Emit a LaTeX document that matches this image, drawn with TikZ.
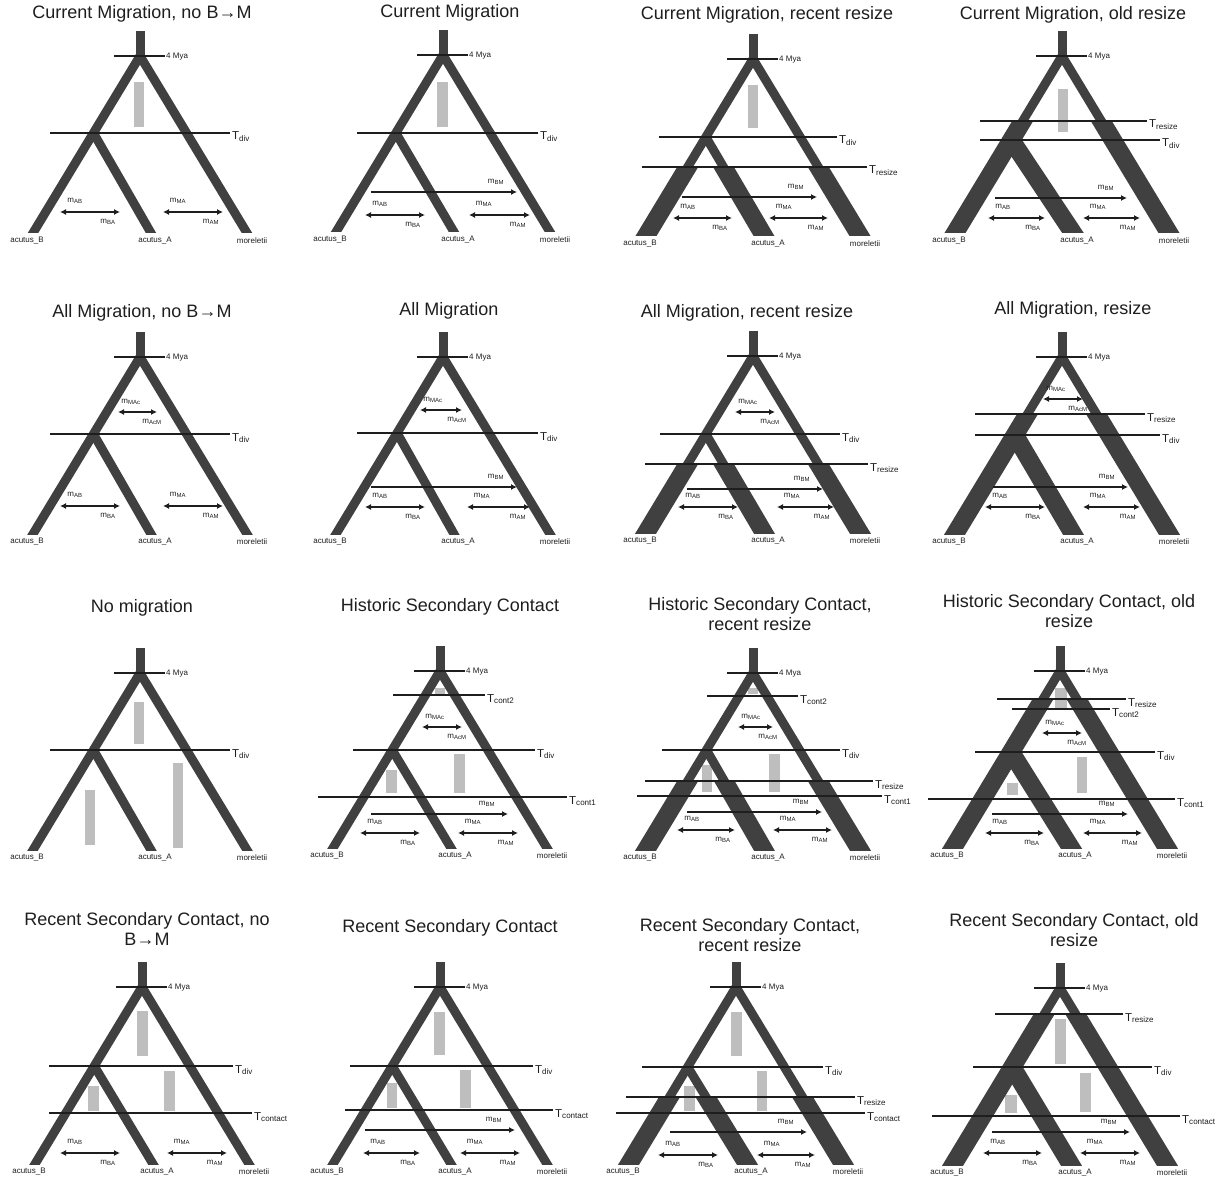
\documentclass[tikz,border=0pt]{standalone}
\usepackage{fontspec}
\setmainfont{Liberation Sans}
\definecolor{branchGrey}{HTML}{404040}
\definecolor{barGrey}{HTML}{BEBEBE}
\definecolor{lineInk}{HTML}{1E1E1E}
\usetikzlibrary{arrows.meta, calc}

% depth of the tips below the root (px)
\newcommand{\treeh}{177}

% tree: stem, 4 Mya mark, outer branches and the acutus_A branch
\newcommand{\tree}[1]{%
  \def\divdepth{#1}
  \coordinate (root) at (0,0);
  \coordinate (stemtop) at (0,-25);
  \coordinate (tipB) at (-107,\treeh);
  \coordinate (tipM) at (107,\treeh);
  \coordinate (tipA) at (11,\treeh);
  \pgfmathsetmacro{\divfrac}{#1/\treeh}
  \coordinate (div) at ($(root)!\divfrac!(tipB)$);
  \begin{scope}
    \clip (-170,-40) rectangle (170,\treeh);
    \draw[branch] (stemtop) -- (root);
    \draw[branch, line join=miter] ($(root)!1.1!(tipB)$) -- (root) -- ($(root)!1.1!(tipM)$);
    \draw[branch] (div) -- ($(div)!1.1!(tipA)$);
  \end{scope}
  \coordinate (myl) at (-26,0);
  \coordinate (myr) at (25,0);
  \draw[tline] (myl) -- (myr);
  \node[small, anchor=west] (mya) at ($(myr)+(1,1)$) {4 Mya};
  \node[small] (labB) at (-113,\treeh+8) {acutus\_B};
  \node[small] (labA) at (15,\treeh+8) {acutus\_A};
  \node[small] (labM) at (112,\treeh+8) {moreletii};
}

% wide legs below T_resize
\newcommand{\resize}[1]{%
  \pgfmathsetmacro{\rfrac}{#1/\treeh-0.05}
  \pgfmathsetmacro{\adepth}{max(#1,\divdepth)}
  \pgfmathsetmacro{\afrac}{(\adepth-\divdepth)/(\treeh-\divdepth)-0.05}
  \begin{scope}
    \clip (-170,#1) rectangle (170,\treeh);
    \draw[leg] ($(root)!\rfrac!(tipB)$) -- ($(root)!1.1!(tipB)$);
    \draw[leg] ($(root)!\rfrac!(tipM)$) -- ($(root)!1.1!(tipM)$);
  \end{scope}
  \begin{scope}
    \clip (-170,\adepth) rectangle (170,\treeh);
    \draw[leg] ($(div)!\afrac!(tipA)$) -- ($(div)!1.1!(tipA)$);
  \end{scope}
}

% time line: depth, x from, x to, subscript
\newcommand{\tline}[4]{%
  \coordinate (tl) at (#2,#1);
  \coordinate (tr) at (#3,#1);
  \draw[tline] (tl) -- (tr);
  \node[tlabel, anchor=base west] (t-#4) at ($(tr)+(2,7)$) {T\textsubscript{#4}};
}

% two-way migration: depth, x from, x to, upper, lower
\newcommand{\mig}[5]{%
  \coordinate (ml) at (#2,#1);
  \coordinate (mr) at (#3,#1);
  \draw[mig, <->] (ml) -- (mr);
  \node[small] (mu) at ($(ml)+(15,-11)$) {m\textsubscript{#4}};
  \node[small] (md) at ($(mr)+(-12,10)$) {m\textsubscript{#5}};
}

% ancestral two-way migration
\newcommand{\ancmig}[3]{%
  \coordinate (al) at (#2,#1);
  \coordinate (ar) at (#3,#1);
  \draw[mig, <->] (al) -- (ar);
  \node[small] (au) at ($(al)+(13,-10)$) {m\textsubscript{MAc}};
  \node[small] (ad) at ($(ar)+(-5,10)$) {m\textsubscript{AcM}};
}

% B -> M migration
\newcommand{\oneway}[3]{%
  \coordinate (bl) at (#2,#1);
  \coordinate (br) at (#3,#1);
  \draw[mig, ->] (bl) -- (br);
  \node[small] (bu) at ($(br)+(-21,-10)$) {m\textsubscript{BM}};
}

\newcommand{\popbar}[4]{\fill[barGrey] (#1,#2) rectangle (#3,#4);}

\begin{document}
\begin{tikzpicture}[
    x=1pt, y=-1pt,
    >={Latex[length=6pt,width=6pt]},
    branch/.style={draw=branchGrey, line width=9pt},
    leg/.style={draw=branchGrey, line width=18pt},
    tline/.style={draw=lineInk, line width=1.2pt},
    mig/.style={draw=lineInk, line width=1.4pt},
    title/.style={font=\fontsize{18}{20}\selectfont, align=center, text=lineInk, inner sep=0pt},
    tlabel/.style={font=\fontsize{11.5}{12}\selectfont, text=lineInk, inner sep=0pt},
    small/.style={font=\fontsize{8}{8}\selectfont, text=lineInk, inner sep=0pt},
  ]
  \useasboundingbox (0,0) rectangle (1229,1182);

  % Current Migration, no B->M
  \begin{scope}[shift={(140,56)}]
    \node[title] (title1) at (2,-42) {Current Migration, no B→M};
    \popbar{-6}{26}{4}{71}
    \tree{77}
    \tline{77}{-90}{90}{div}
    \mig{156}{-80}{-20}{AB}{BA}
    \mig{156}{23}{83}{MA}{AM}
  \end{scope}

  % Current Migration
  \begin{scope}[shift={(443,55)}]
    \node[title] (title2) at (7,-42) {Current Migration};
    \popbar{-6}{27}{5}{72}
    \tree{78}
    \tline{78}{-86}{95}{div}
    \oneway{137}{-72}{74}
    \mig{160}{-78}{-18}{AB}{BA}
    \mig{160}{26}{87}{MA}{AM}
  \end{scope}

  % Current Migration, recent resize
  \begin{scope}[shift={(753,59)}]
    \node[title] (title3) at (14,-44) {Current Migration, recent resize};
    \popbar{-5}{26}{5}{69}
    \tree{78}
    \resize{108}
    \tline{78}{-94}{84}{div}
    \tline{108}{-111}{114}{resize}
    \oneway{138}{-71}{64}
    \mig{159}{-80}{-21}{AB}{BA}
    \mig{159}{16}{75}{MA}{AM}
  \end{scope}

  % Current Migration, old resize
  \begin{scope}[shift={(1062,56)}]
    \node[title] (title4) at (11,-41) {Current Migration, old resize};
    \popbar{-4}{33}{6}{76}
    \tree{84}
    \resize{65}
    \tline{65}{-82}{85}{resize}
    \tline{84}{-82}{98}{div}
    \oneway{142}{-67}{65}
    \mig{162}{-74}{-17}{AB}{BA}
    \mig{162}{21}{78}{MA}{AM}
  \end{scope}

  % All Migration, no B->M
  \begin{scope}[shift={(140,357)}]
    \node[title] (title5) at (2,-44) {All Migration, no B→M};
    \tree{77}
    \ancmig{55}{-22}{17}
    \tline{77}{-90}{90}{div}
    \mig{149}{-80}{-20}{AB}{BA}
    \mig{149}{23}{83}{MA}{AM}
  \end{scope}

  % All Migration
  \begin{scope}[shift={(443,357)}]
    \node[title] (title6) at (6,-46) {All Migration};
    \tree{76}
    \ancmig{53}{-23}{19}
    \tline{76}{-86}{95}{div}
    \oneway{130}{-72}{74}
    \mig{150}{-78}{-18}{AB}{BA}
    \mig{150}{24}{87}{MA}{AM}
  \end{scope}

  % All Migration, recent resize
  \begin{scope}[shift={(753,356)}]
    \node[title] (title7) at (-6,-43) {All Migration, recent resize};
    \tree{78}
    \resize{108}
    \ancmig{56}{-18}{22}
    \tline{78}{-93}{87}{div}
    \tline{108}{-108}{115}{resize}
    \oneway{133}{-66}{70}
    \mig{151}{-75}{-15}{AB}{BA}
    \mig{151}{24}{81}{MA}{AM}
  \end{scope}

  % All Migration, resize
  \begin{scope}[shift={(1062,357)}]
    \node[title] (title8) at (11,-47) {All Migration, resize};
    \tree{78}
    \resize{57}
    \ancmig{42}{-19}{21}
    \tline{57}{-87}{83}{resize}
    \tline{78}{-87}{98}{div}
    \oneway{130}{-69}{66}
    \mig{150}{-77}{-17}{AB}{BA}
    \mig{150}{21}{78}{MA}{AM}
  \end{scope}

  % No migration
  \begin{scope}[shift={(140,673)}]
    \node[title] (title9) at (2,-65) {No migration};
    \popbar{-6}{29}{4}{71}
    \popbar{-55}{117}{-45}{172}
    \popbar{33}{90}{43}{175}
    \tree{77}
    \tline{77}{-90}{90}{div}
  \end{scope}

  % Historic Secondary Contact
  \begin{scope}[shift={(440,671)}]
    \node[title] (title10) at (10,-64) {Historic Secondary Contact};
    \popbar{-5}{17}{5}{23}
    \popbar{-54}{99}{-43}{122}
    \popbar{14}{83}{25}{122}
    \tree{79}
    \tline{24}{-47}{45}{cont2}
    \ancmig{56}{-18}{22}
    \tline{79}{-87}{95}{div}
    \tline{126}{-122}{127}{cont1}
    \oneway{143}{-69}{68}
    \mig{162}{-80}{-20}{AB}{BA}
    \mig{162}{18}{78}{MA}{AM}
  \end{scope}

  % Historic Secondary Contact, recent resize
  \begin{scope}[shift={(753,673)}]
    \node[title] (title11) at (7,-59) {Historic Secondary Contact,\\recent resize};
    \popbar{-5}{15}{5}{21}
    \popbar{-51}{92}{-41}{119}
    \popbar{16}{81}{27}{119}
    \tree{77}
    \resize{108}
    \tline{23}{-46}{45}{cont2}
    \ancmig{54}{-15}{20}
    \tline{77}{-91}{87}{div}
    \tline{108}{-108}{120}{resize}
    \tline{123}{-116}{129}{cont1}
    \oneway{139}{-66}{69}
    \mig{157}{-76}{-18}{AB}{BA}
    \mig{157}{20}{79}{MA}{AM}
  \end{scope}

  % Historic Secondary Contact, old resize
  \begin{scope}[shift={(1060,671)}]
    \node[title] (title12) at (9,-60) {Historic Secondary Contact, old\\resize};
    \popbar{-5}{17}{7}{37}
    \popbar{-53}{112}{-42}{124}
    \popbar{17}{86}{27}{122}
    \tree{81}
    \resize{28}
    \tline{28}{-63}{66}{resize}
    \tline{38}{-48}{50}{cont2}
    \ancmig{62}{-18}{22}
    \tline{81}{-85}{95}{div}
    \tline{128}{-132}{115}{cont1}
    \oneway{143}{-68}{68}
    \mig{162}{-75}{-16}{AB}{BA}
    \mig{162}{23}{82}{MA}{AM}
  \end{scope}

  % Recent Secondary Contact, no B->M
  \begin{scope}[shift={(142,987)}]
    \node[title] (title13) at (5,-58) {Recent Secondary Contact, no\\B→M};
    \popbar{-5}{24}{6}{69}
    \popbar{-54}{99}{-43}{124}
    \popbar{22}{84}{33}{124}
    \tree{79}
    \tline{79}{-93}{91}{div}
    \tline{126}{-93}{110}{contact}
    \mig{166}{-82}{-22}{AB}{BA}
    \mig{166}{25}{85}{MA}{AM}
  \end{scope}

  % Recent Secondary Contact
  \begin{scope}[shift={(440,987)}]
    \node[title] (title14) at (10,-59) {Recent Secondary Contact};
    \popbar{-6}{25}{5}{68}
    \popbar{-53}{96}{-43}{121}
    \popbar{20}{83}{31}{121}
    \tree{79}
    \tline{79}{-90}{93}{div}
    \tline{123}{-95}{113}{contact}
    \oneway{143}{-75}{75}
    \mig{166}{-77}{-20}{AB}{BA}
    \mig{166}{20}{80}{MA}{AM}
  \end{scope}

  % Recent Secondary Contact, recent resize
  \begin{scope}[shift={(736,987)}]
    \node[title] (title15) at (14,-52) {Recent Secondary Contact,\\recent resize};
    \popbar{-5}{25}{6}{69}
    \popbar{-52}{99}{-41}{124}
    \popbar{21}{84}{31}{124}
    \tree{80}
    \resize{110}
    \tline{80}{-94}{87}{div}
    \tline{110}{-110}{119}{resize}
    \tline{126}{-120}{129}{contact}
    \oneway{145}{-66}{71}
    \mig{168}{-78}{-18}{AB}{BA}
    \mig{168}{21}{79}{MA}{AM}
  \end{scope}

  % Recent Secondary Contact, old resize
  \begin{scope}[shift={(1060,988)}]
    \node[title] (title16) at (14,-58) {Recent Secondary Contact, old\\resize};
    \popbar{-5}{31}{6}{76}
    \popbar{-55}{107}{-43}{125}
    \popbar{20}{85}{31}{124}
    \tree{79}
    \resize{26}
    \tline{26}{-65}{63}{resize}
    \tline{79}{-87}{92}{div}
    \tline{128}{-128}{120}{contact}
    \oneway{144}{-68}{70}
    \mig{165}{-77}{-18}{AB}{BA}
    \mig{165}{20}{80}{MA}{AM}
  \end{scope}
\end{tikzpicture}
\end{document}
